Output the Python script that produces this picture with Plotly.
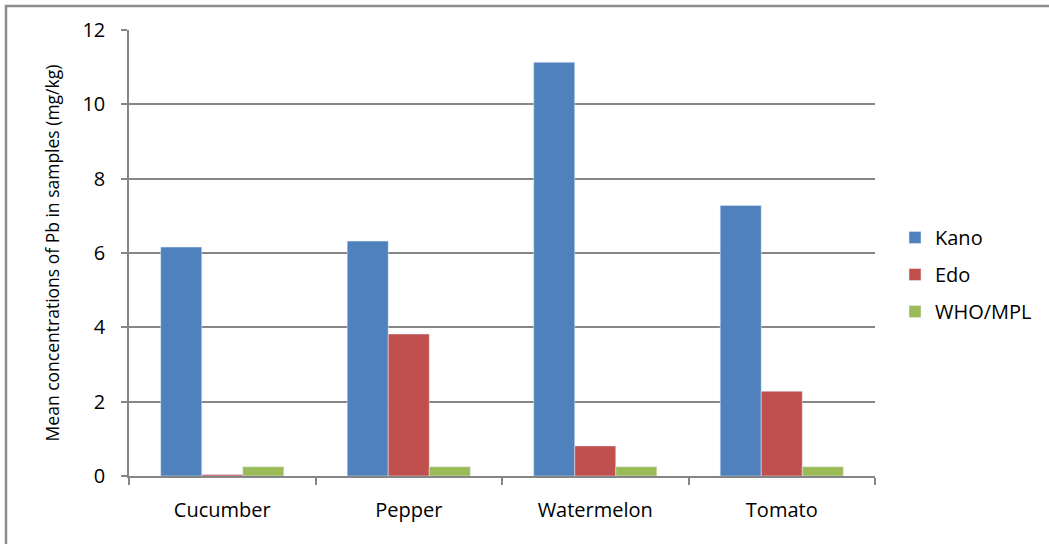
import plotly.graph_objects as go

categories = ["Cucumber", "Pepper", "Watermelon", "Tomato"]
kano = [6.16, 6.32, 11.13, 7.28]
edo = [0.04, 3.82, 0.81, 2.28]
who_mpl = [0.25, 0.25, 0.25, 0.25]
y_ticks = [0, 2, 4, 6, 8, 10, 12]

FONT = "Open Sans"
W, H = 1049, 544
L, R, T, B = 129, 174, 30, 68
pw, ph = W - L - R, H - T - B

fig = go.Figure()
fig.add_trace(go.Bar(name="Kano", x=categories, y=kano, marker_color="#4F81BD", legendgroup="a"))
fig.add_trace(go.Bar(name="Edo", x=categories, y=edo, marker_color="#C0504D", legendgroup="b"))
fig.add_trace(go.Bar(name="WHO/MPL", x=categories, y=who_mpl, marker_color="#9BBB59", legendgroup="c"))

def px_x(x):
    return (x - L) / pw

def px_y(y):
    return (H - B - y) / ph

fig.update_layout(
    width=W, height=H,
    margin=dict(l=L, r=R, t=T, b=B, autoexpand=False),
    paper_bgcolor="white", plot_bgcolor="white",
    barmode="group", bargap=0.34, bargroupgap=0,
    font=dict(family=FONT, color="#000000"),
    legend=dict(x=px_x(895), y=px_y(218), xanchor="left", yanchor="top",
                font=dict(size=20, family=FONT), tracegroupgap=8,
                traceorder="grouped",
                itemwidth=30, bgcolor="rgba(0,0,0,0)"),
    shapes=[dict(type="path", xref="paper", yref="paper",
                 path=f"M {px_x(6)} {px_y(560)} L {px_x(6)} {px_y(6)} L {px_x(1060)} {px_y(6)}",
                 line=dict(color="#8C8C8C", width=2.5))],
)
fig.update_xaxes(
    showline=True, linecolor="#868686", linewidth=1.5,
    ticks="outside", tickson="boundaries", ticklen=7, tickcolor="#868686", tickwidth=1.5,
    tickfont=dict(size=20, family=FONT), ticklabelstandoff=15,
    showgrid=False,
)
fig.update_yaxes(
    range=[0, 12], tickvals=y_ticks, ticktext=[str(v) for v in y_ticks],
    showline=True, linecolor="#868686", linewidth=1.5,
    ticks="outside", ticklen=6, tickcolor="#868686", tickwidth=1.5,
    tickfont=dict(size=20, family=FONT), ticklabelstandoff=12,
    showgrid=True, gridcolor="#868686", gridwidth=1.5, zeroline=False,
    title=dict(text="Mean concentrations of Pb in samples (mg/kg)",
               font=dict(size=17.5, family=FONT), standoff=18),
)
fig.write_html("out.html")
